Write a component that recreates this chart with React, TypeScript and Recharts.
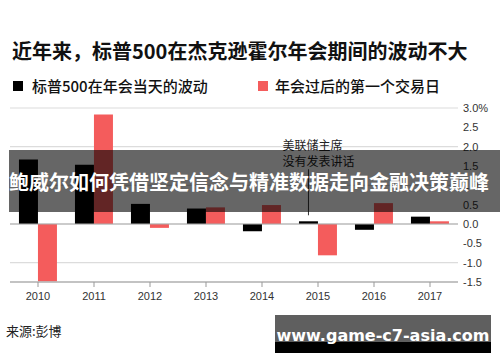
import React from 'react'
import {
  BarChart,
  Bar,
  XAxis,
  YAxis,
  CartesianGrid,
  ReferenceLine,
  LabelList,
} from 'recharts'

const years = ['2010', '2011', '2012', '2013', '2014', '2015', '2016', '2017']
// 标普500在年会当天的波动 (%)
const meetingDay = [1.67, 1.53, 0.52, 0.4, -0.19, 0.07, -0.15, 0.19]
// 年会过后的第一个交易日 (%)
const nextTradingDay = [-1.48, 2.83, -0.1, 0.43, 0.49, -0.81, 0.54, 0.07]
const yTicks = [-1.5, -1, -0.5, 0, 0.5, 1, 1.5, 2, 2.5, 3]
const noteYear = '2015'
const noteLines = ['美联储主席', '没有发表讲话']

const RED = '#f45c5c'
const CJK = '"Noto Sans CJK SC", "Noto Sans", sans-serif'
const LATIN = '"Liberation Sans", Arial, sans-serif'

const data = years.map((year, i) => ({
  year,
  meetingDay: meetingDay[i],
  nextTradingDay: nextTradingDay[i],
}))

// draws the "no speech" note above the 2015 black bar
function NoteLabel(props: any) {
  const { x, y, width, index } = props
  if (years[index] !== noteYear) return null
  const cx = x + width / 2
  return (
    <g>
      <line x1={cx} x2={cx} y1={y - 6} y2={y - 52} stroke="#333" strokeWidth={1} />
      {noteLines.map((t, i) => (
        <text
          key={t}
          x={cx - 26}
          y={y - 71 + i * 16}
          fontSize={12}
          fontFamily={CJK}
          fill="#222"
        >
          {t}
        </text>
      ))}
    </g>
  )
}

export default function App() {
  return (
    <div
      style={{
        position: 'absolute',
        left: 0,
        top: 0,
        width: 500,
        height: 362,
        background: '#fff',
        overflow: 'hidden',
      }}
    >
      <div
        style={{
          position: 'absolute',
          left: 12,
          top: 36,
          fontFamily: CJK,
          fontWeight: 700,
          fontSize: 20,
          color: '#111',
          whiteSpace: 'nowrap',
        }}
      >
        近年来，标普500在杰克逊霍尔年会期间的波动不大
      </div>

      {/* legend */}
      <div style={{ position: 'absolute', left: 13, top: 73, fontFamily: CJK, fontSize: 15, fontWeight: 500, color: '#111', whiteSpace: 'nowrap' }}>
        <span style={{ display: 'inline-block', width: 10, height: 10, background: '#000', marginRight: 9, verticalAlign: 'middle' }} />
        <span style={{ verticalAlign: 'middle' }}>标普500在年会当天的波动</span>
      </div>
      <div style={{ position: 'absolute', left: 258, top: 73, fontFamily: CJK, fontSize: 15, fontWeight: 500, color: '#111', whiteSpace: 'nowrap' }}>
        <span style={{ display: 'inline-block', width: 10, height: 10, background: RED, marginRight: 7, verticalAlign: 'middle' }} />
        <span style={{ verticalAlign: 'middle' }}>年会过后的第一个交易日</span>
      </div>

      <div style={{ position: 'absolute', left: 0, top: 0 }}>
        <BarChart
          width={500}
          height={362}
          data={data}
          margin={{ top: 108, right: 0, left: 10, bottom: 50 }}
          barCategoryGap="16%"
          barGap={0}
        >
          <CartesianGrid vertical={false} stroke="#dcdcdc" strokeWidth={1.2} />
          <XAxis
            dataKey="year"
            height={30}
            stroke="#999"
            tickSize={5}
            tickMargin={5}
            tick={{ fontSize: 11, fill: '#333', fontFamily: LATIN }}
          />
          <YAxis
            orientation="right"
            width={42}
            domain={[-1.5, 3]}
            ticks={yTicks}
            axisLine={false}
            tickLine={false}
            tickSize={0}
            tickMargin={5}
            tick={{ fontSize: 11, fill: '#333', fontFamily: LATIN, textAnchor: 'start' }}
            tickFormatter={(v: number) => (v === 3 ? '3.0%' : v.toFixed(1))}
          />
          <ReferenceLine y={0} stroke="#aaa" strokeWidth={1.2} />
          <Bar dataKey="meetingDay" fill="#000" isAnimationActive={false}>
            <LabelList dataKey="meetingDay" content={NoteLabel} />
          </Bar>
          <Bar dataKey="nextTradingDay" fill={RED} isAnimationActive={false} />
        </BarChart>
      </div>

      <div
        style={{
          position: 'absolute',
          left: 6,
          top: 321,
          fontFamily: CJK,
          fontSize: 13,
          color: '#222',
        }}
      >
        来源:彭博
      </div>

      {/* overlay banner */}
      <div
        style={{
          position: 'absolute',
          left: 9,
          top: 150,
          width: 491,
          height: 62,
          background: 'rgba(0,0,0,0.6)',
          display: 'flex',
          alignItems: 'center',
          fontFamily: CJK,
          fontWeight: 700,
          fontSize: 20,
          color: '#fff',
          whiteSpace: 'nowrap',
        }}
      >
        鲍威尔如何凭借坚定信念与精准数据走向金融决策巅峰
      </div>

      {/* watermark */}
      <div
        style={{
          position: 'absolute',
          left: 275,
          top: 315,
          width: 216,
          height: 38,
          background: 'linear-gradient(#5f5f5f 0, #5f5f5f 70%, #000 70%, #000 100%)',
        }}
      />
      <div
        style={{
          position: 'absolute',
          left: 275,
          top: 326,
          width: 216,
          textAlign: 'center',
          fontFamily: '"DejaVu Sans", sans-serif',
          fontWeight: 700,
          fontSize: 16,
          color: '#fff',
          whiteSpace: 'nowrap',
        }}
      >
        www.game-c7-asia.com
      </div>
    </div>
  )
}
